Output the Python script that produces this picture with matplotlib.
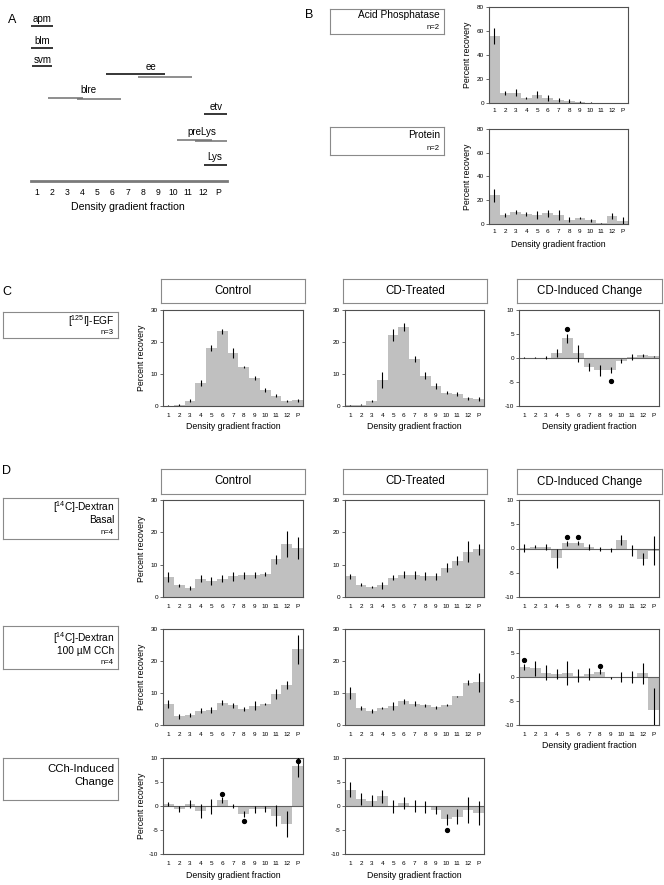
import numpy as np
import matplotlib.pyplot as plt

plt.rcParams['font.family'] = ['Liberation Sans', 'DejaVu Sans']
plt.rcParams['mathtext.default'] = 'regular'
plt.rcParams['axes.unicode_minus'] = False

W, H = 664, 885

fraction_labels = ['1', '2', '3', '4', '5', '6', '7', '8', '9', '10', '11', '12', 'P']

# A: where each marker sits on the gradient (fraction units)
a_names = ['apm', 'blm', 'svm', 'ee', 'ee', 'blre', 'blre', 'etv', 'preLys', 'preLys', 'Lys']
a_start = [0.6, 0.6, 0.65, 5.57, 7.7, 1.7, 3.65, 12.1, 10.3, 11.5, 12.1]
a_end = [2.05, 2.05, 1.97, 9.48, 11.3, 4.05, 6.56, 13.6, 12.6, 13.6, 13.6]

# B
acid_phos = [56, 8.5, 8.5, 4, 7, 4, 2.5, 1.5, 1, 0.3, 0.2, 0.3, 0.2]
acid_phos_err = [6.5, 1.5, 3, 1, 3, 2.5, 2, 1.5, 1, 0.3, 0, 0, 0]
protein = [24, 7.5, 10, 8.5, 7.5, 9, 7.5, 3.5, 5, 3, 0.5, 6.5, 2.5]
protein_err = [5.5, 1.5, 2, 1.5, 3.5, 3, 4, 2, 1, 1.5, 0.3, 2.5, 3]

# C: [125I]-EGF
egf_ctrl = [0.1, 0.3, 1.6, 7.1, 18.2, 23.4, 16.5, 12.2, 8.8, 5.0, 3.2, 1.6, 1.8]
egf_ctrl_err = [0.1, 0.2, 0.5, 1.0, 1.0, 0.8, 1.5, 0.4, 0.6, 0.5, 0.5, 0.3, 0.4]
egf_cd = [0.2, 0.4, 1.7, 8.2, 22.2, 24.6, 14.6, 9.5, 6.3, 4.2, 3.7, 2.4, 2.2]
egf_cd_err = [0.1, 0.2, 0.3, 2.5, 2.0, 1.3, 1.0, 1.0, 1.0, 0.5, 0.6, 0.5, 0.5]
egf_chg = [0.1, 0.05, 0.1, 1.1, 4.1, 1.0, -1.9, -2.6, -2.5, -0.7, 0.2, 0.6, 0.4]
egf_chg_err = [0.1, 0.1, 0.4, 0.8, 1.0, 1.8, 0.8, 1.1, 0.6, 0.4, 0.6, 0.3, 0.1]
egf_sig_x = [5, 9]
egf_sig_y = [6.0, -4.8]

# D: [14C]-Dextran basal
basal_ctrl = [6.2, 3.6, 2.9, 5.7, 4.9, 5.7, 6.4, 6.7, 6.8, 7.2, 11.6, 16.3, 15.1]
basal_ctrl_err = [1.5, 0.5, 0.6, 1.2, 1.2, 1.2, 1.3, 1.0, 1.0, 0.6, 1.4, 4.0, 3.5]
basal_cd = [6.4, 3.8, 3.1, 3.6, 6.0, 6.9, 6.8, 6.5, 6.4, 9.1, 11.2, 14.0, 14.7]
basal_cd_err = [0.8, 0.5, 0.4, 1.0, 0.8, 1.0, 1.1, 1.2, 1.1, 1.4, 1.4, 3.2, 1.8]
basal_chg = [0.1, 0.4, 0.3, -2.0, 1.1, 1.1, 0.3, -0.1, -0.3, 1.8, -0.4, -2.2, -0.5]
basal_chg_err = [0.8, 0.3, 0.7, 2.0, 0.5, 0.4, 0.7, 0.4, 0.5, 1.0, 1.2, 1.2, 3.0]
basal_sig_x = [5, 6]
basal_sig_y = [2.4, 2.4]

# D: [14C]-Dextran 100 uM CCh
cch_ctrl = [6.5, 2.7, 3.2, 4.5, 4.6, 7.0, 6.2, 5.0, 6.0, 6.5, 9.7, 12.5, 23.6]
cch_ctrl_err = [1.3, 0.8, 0.6, 0.8, 1.0, 0.9, 0.8, 0.7, 1.4, 0.4, 1.5, 1.2, 4.5]
cch_cd = [10.0, 5.4, 4.4, 5.3, 6.0, 7.4, 6.6, 6.1, 5.5, 6.3, 9.0, 13.2, 13.3]
cch_cd_err = [1.8, 0.6, 0.5, 0.3, 1.2, 0.8, 0.8, 0.4, 0.5, 0.4, 0.2, 0.8, 3.0]
cch_chg = [2.1, 1.8, 0.9, 0.6, 0.8, 0.3, 0.6, 1.1, -0.2, 0.0, 0.0, 0.8, -6.8]
cch_chg_err = [0.7, 1.5, 1.5, 1.0, 2.5, 1.3, 1.2, 0.5, 0.2, 1.1, 1.2, 2.2, 4.5]
cch_sig_x = [1, 8]
cch_sig_y = [3.6, 2.3]

# D: CCh-induced change
cchind_ctrl = [0.4, -0.6, 0.4, -1.1, -0.1, 1.3, 0.0, -1.6, -0.7, -0.6, -2.0, -3.7, 8.3]
cchind_ctrl_err = [0.5, 0.6, 0.8, 1.5, 1.5, 0.6, 0.5, 0.6, 0.8, 0.6, 2.2, 2.7, 2.3]
cchind_ctrl_sig_x = [6, 8, 13]
cchind_ctrl_sig_y = [2.6, -3.1, 9.4]
cchind_cd = [3.4, 1.5, 1.1, 2.0, -0.1, 0.6, 0.0, -0.2, -0.9, -2.8, -2.2, -0.8, -1.4]
cchind_cd_err = [1.6, 1.2, 1.2, 1.3, 1.4, 1.2, 1.2, 1.3, 0.8, 1.2, 1.5, 2.7, 2.5]
cchind_cd_sig_x = [10]
cchind_cd_sig_y = [-5.1]

fig = plt.figure(figsize=(W / 100, H / 100), dpi=100)


def px_axes(x0, y0, x1, y1):
    return fig.add_axes([x0 / W, 1 - y1 / H, (x1 - x0) / W, (y1 - y0) / H])


def ftext(x, y, s, **kw):
    fig.text(x / W, 1 - y / H, s, **kw)


def box(x0, y0, x1, y1):
    ax = px_axes(x0, y0, x1, y1)
    ax.set_xticks([])
    ax.set_yticks([])
    for sp in ax.spines.values():
        sp.set_edgecolor('#8a8a8a')
        sp.set_linewidth(0.8)
    return ax


def label_box(x0, y0, x1, y1, lines):
    box(x0, y0, x1, y1)
    for s, y, size in lines:
        ftext(x1 - 4, y, s, ha='right', va='center', fontsize=size)


def header_box(x0, y0, x1, y1, s):
    box(x0, y0, x1, y1)
    ftext((x0 + x1) / 2, (y0 + y1) / 2, s, ha='center', va='center', fontsize=8.3)


def bar_panel(x0, y0, x1, y1, vals, errs, change=False, ymax=30, yticks=(0, 10, 20, 30),
              sig_x=(), sig_y=(), ylabel=False, xlabel=False, xpad=4.7):
    ax = px_axes(x0, y0, x1, y1)
    x = np.arange(1, 14)
    ax.bar(x, vals, width=1.0, color='#c0c0c0', linewidth=0, zorder=1)
    if change:
        ax.axhline(0, color='#606060', lw=0.8, zorder=2)
        ax.set_ylim(-10, 10)
        ax.set_yticks([-10, -5, 0, 5, 10])
    else:
        ax.set_ylim(0, ymax)
        ax.set_yticks(yticks)
    ax.errorbar(x, vals, yerr=errs, fmt='none', ecolor='black', elinewidth=0.8,
                capsize=0, zorder=3)
    if len(sig_x):
        ax.plot(sig_x, sig_y, 'o', color='black', ms=2.8, zorder=4, clip_on=False)
    ax.set_xlim(0.5, 13.5)
    ax.set_xticks(x)
    ax.set_xticklabels(fraction_labels)
    ax.tick_params(axis='x', length=0, pad=xpad, labelsize=4.6)
    ax.tick_params(axis='y', length=2, width=0.6, pad=1.5, labelsize=4.6, color='#505050')
    for sp in ax.spines.values():
        sp.set_color('#505050')
        sp.set_linewidth(0.8)
    wpx = x1 - x0
    hpx = y1 - y0
    if ylabel:
        ax.text(-21.5 / wpx, 0.5, 'Percent recovery', rotation=90, ha='center',
                va='center', fontsize=6.3, transform=ax.transAxes)
    if xlabel:
        ax.text(0.5, -21 / hpx, 'Density gradient fraction', ha='center',
                va='center', fontsize=6.3, transform=ax.transAxes)
    return ax


# ---------- panel A ----------
ftext(12, 20, 'A', ha='center', va='center', fontsize=9)
axA = px_axes(31, 5, 227, 181)
axA.set_xlim(0.602, 13.6)
axA.set_ylim(181, 5)
a_line_y = [26, 48, 66, 74, 77, 98, 99, 114, 140, 141, 165]
a_colors = ['black', 'black', 'black', 'black', '#707070', '#707070', '#707070',
            'black', '#707070', '#707070', 'black']
for s, e, y, c in zip(a_start, a_end, a_line_y, a_colors):
    axA.plot([s, e], [y, y], color=c, lw=1.1, solid_capstyle='butt', clip_on=False)
a_label_pos = {'apm': (1.35, 19), 'blm': (1.35, 41), 'svm': (1.35, 60), 'ee': (8.55, 67),
               'blre': (4.38, 90), 'etv': (12.85, 107), 'preLys': (11.9, 132),
               'Lys': (12.8, 157)}
for name, (lx, ly) in a_label_pos.items():
    axA.text(lx, ly, name, ha='center', va='center', fontsize=7)
for k in ['top', 'left', 'right']:
    axA.spines[k].set_visible(False)
axA.spines['bottom'].set_color('#7a7a7a')
axA.spines['bottom'].set_linewidth(2)
axA.set_yticks([])
axA.set_xticks(np.arange(1, 14))
axA.set_xticklabels(fraction_labels)
axA.tick_params(axis='x', length=0, pad=5.0, labelsize=6.2)
ftext(128, 207, 'Density gradient fraction', ha='center', va='center', fontsize=7.6)

# ---------- panel B ----------
ftext(309, 15, 'B', ha='center', va='center', fontsize=9)
label_box(330, 9, 444, 34, [('Acid Phosphatase', 15.5, 7.3), ('n=2', 27.5, 5.5)])
label_box(330, 127, 444, 155, [('Protein', 135, 7.3), ('n=2', 148, 5.5)])
bar_panel(489, 7, 628, 103, acid_phos, acid_phos_err, ymax=80, yticks=(0, 20, 40, 60, 80),
          ylabel=True, xpad=3.3)
bar_panel(489, 129, 628, 224, protein, protein_err, ymax=80, yticks=(0, 20, 40, 60, 80),
          ylabel=True, xlabel=True, xpad=3.3)

# ---------- panel C ----------
cols = [(163, 303), (345, 484), (519, 659)]
head_x = [(161, 305), (343, 487), (517, 662)]
titles = ['Control', 'CD-Treated', 'CD-Induced Change']

ftext(7, 292, 'C', ha='center', va='center', fontsize=9)
for (hx0, hx1), t in zip(head_x, titles):
    header_box(hx0, 279, hx1, 303, t)
label_box(3, 312, 118, 338, [('[$^{125}$I]-EGF', 321, 7.3), ('n=3', 332, 5.5)])
bar_panel(*cols[0][:1], 310, cols[0][1], 406, egf_ctrl, egf_ctrl_err, ylabel=True, xlabel=True)
bar_panel(cols[1][0], 310, cols[1][1], 406, egf_cd, egf_cd_err, xlabel=True)
bar_panel(cols[2][0], 310, cols[2][1], 406, egf_chg, egf_chg_err, change=True,
          sig_x=egf_sig_x, sig_y=egf_sig_y, xlabel=True)

# ---------- panel D ----------
ftext(7, 471, 'D', ha='center', va='center', fontsize=9)
for (hx0, hx1), t in zip(head_x, titles):
    header_box(hx0, 469, hx1, 494, t)

label_box(3, 498, 118, 539, [('[$^{14}$C]-Dextran', 507.5, 7.3), ('Basal', 520, 7.3),
                             ('n=4', 532, 5.5)])
bar_panel(cols[0][0], 500, cols[0][1], 597, basal_ctrl, basal_ctrl_err, ylabel=True)
bar_panel(cols[1][0], 500, cols[1][1], 597, basal_cd, basal_cd_err)
bar_panel(cols[2][0], 500, cols[2][1], 597, basal_chg, basal_chg_err, change=True,
          sig_x=basal_sig_x, sig_y=basal_sig_y)

label_box(3, 626, 118, 669, [('[$^{14}$C]-Dextran', 638, 7.3), ('100 \u00b5M CCh', 651, 7.3),
                             ('n=4', 663, 5.5)])
bar_panel(cols[0][0], 629, cols[0][1], 725, cch_ctrl, cch_ctrl_err, ylabel=True)
bar_panel(cols[1][0], 629, cols[1][1], 725, cch_cd, cch_cd_err)
bar_panel(cols[2][0], 629, cols[2][1], 725, cch_chg, cch_chg_err, change=True,
          sig_x=cch_sig_x, sig_y=cch_sig_y, xlabel=True)

label_box(3, 758, 118, 800, [('CCh-Induced', 768.5, 8.2), ('Change', 782, 8.2)])
bar_panel(cols[0][0], 758, cols[0][1], 854, cchind_ctrl, cchind_ctrl_err, change=True,
          sig_x=cchind_ctrl_sig_x, sig_y=cchind_ctrl_sig_y, ylabel=True, xlabel=True)
bar_panel(cols[1][0], 758, cols[1][1], 854, cchind_cd, cchind_cd_err, change=True,
          sig_x=cchind_cd_sig_x, sig_y=cchind_cd_sig_y, xlabel=True)

fig.savefig('out.png', dpi=100, facecolor='white')
